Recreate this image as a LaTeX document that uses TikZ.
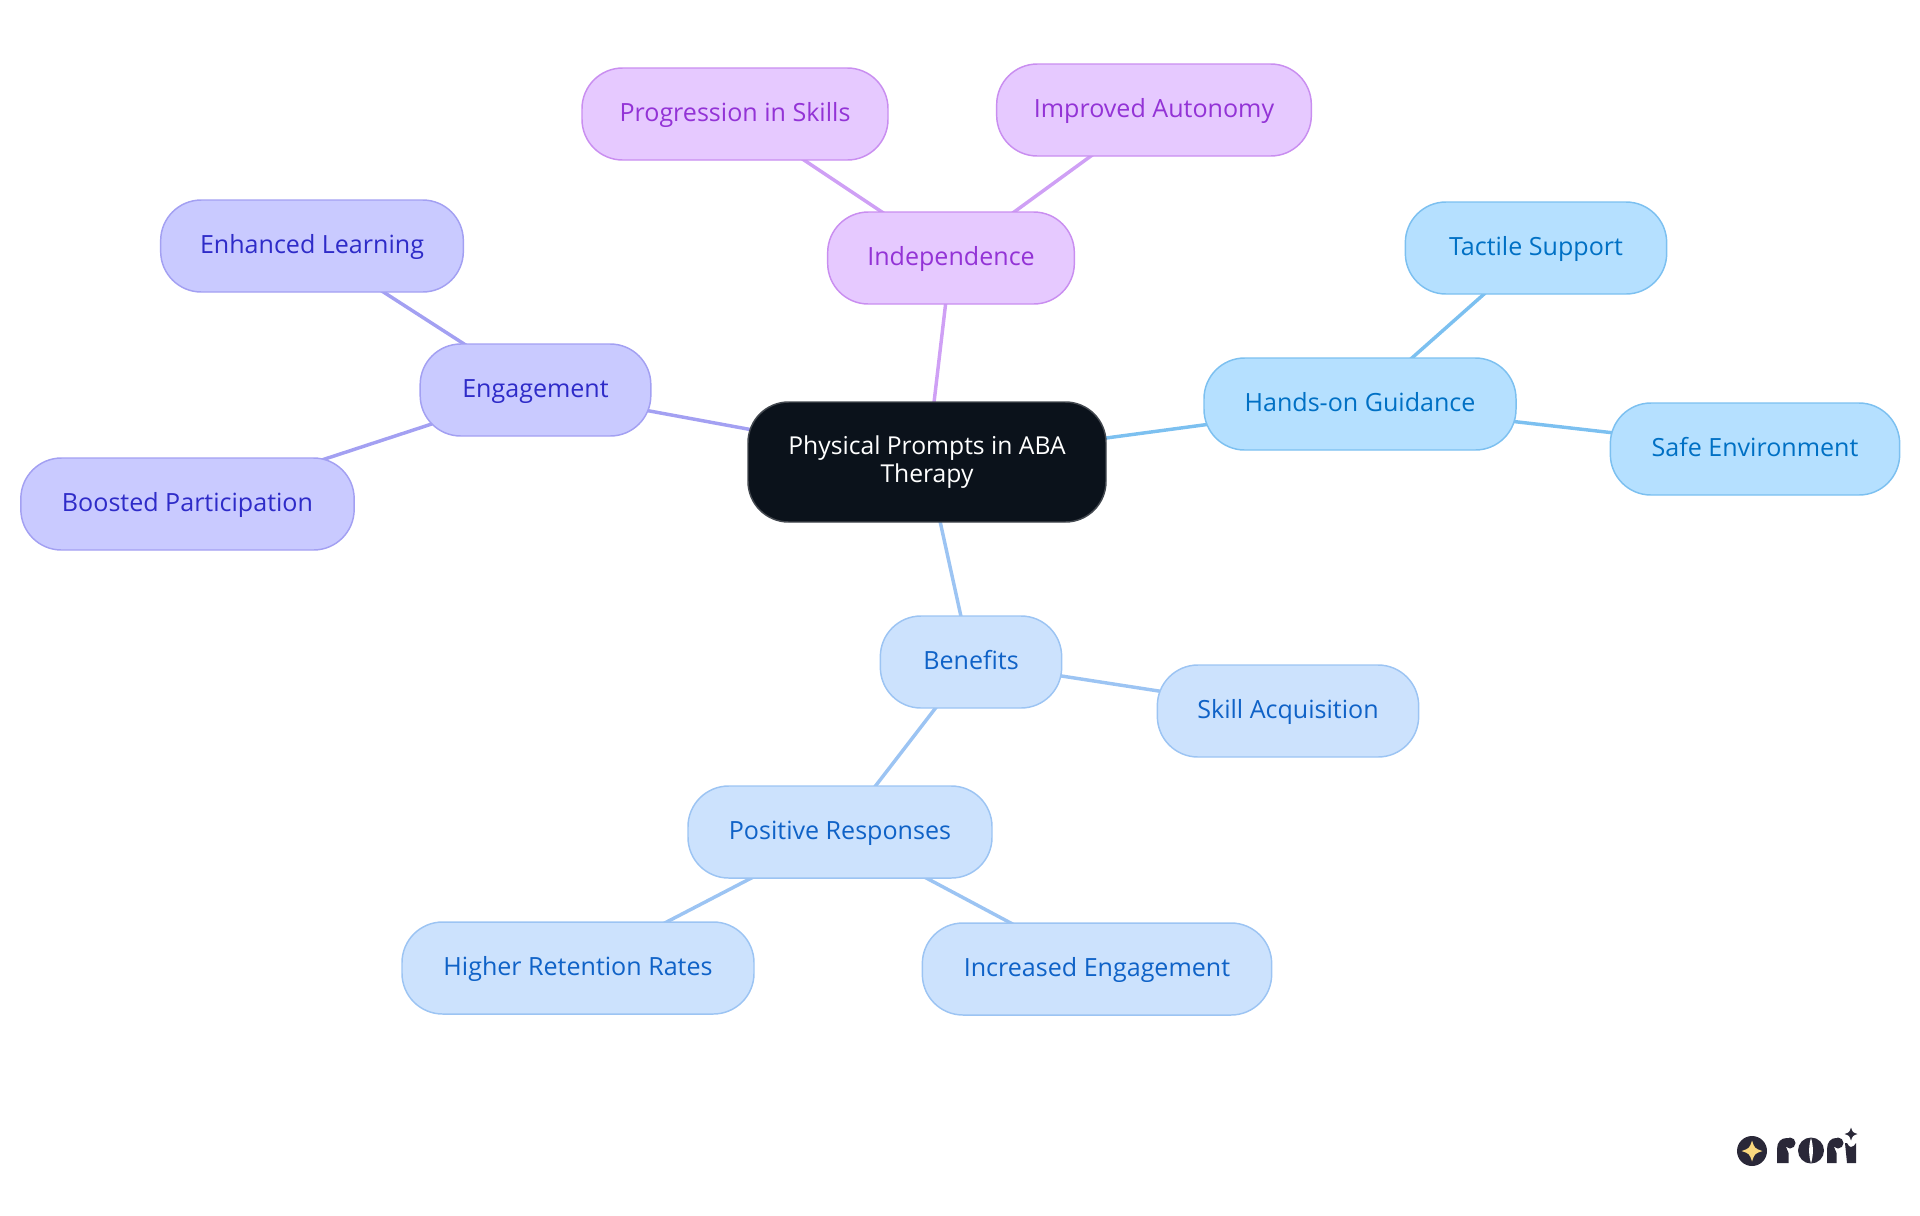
\documentclass[tikz,border=0pt]{standalone}
\usepackage{fontspec}
\setmainfont{Open Sans}
\usetikzlibrary{backgrounds}
\definecolor{rootfill}{HTML}{0B121B}
\definecolor{rootline}{HTML}{43484F}
\definecolor{purfill}{HTML}{E6C9FF}
\definecolor{purline}{HTML}{C98EF0}
\definecolor{purtext}{HTML}{9333D6}
\definecolor{puredge}{HTML}{CFA0F5}
\definecolor{indfill}{HTML}{C9CAFF}
\definecolor{indline}{HTML}{A3A0F2}
\definecolor{indtext}{HTML}{2E2BC8}
\definecolor{skyfill}{HTML}{B5E0FF}
\definecolor{skyline}{HTML}{7CC0F0}
\definecolor{skytext}{HTML}{0070C4}
\definecolor{blufill}{HTML}{CCE2FD}
\definecolor{bluline}{HTML}{9CC4F3}
\definecolor{blutext}{HTML}{0F62C7}
\definecolor{logodark}{HTML}{2A2838}
\definecolor{logostar}{HTML}{FBD97E}
\tikzset{
  mnode/.style={rectangle, rounded corners=30.5pt, line width=1.1pt, inner sep=0pt,
    minimum height=69pt, align=center},
  rootnode/.style={mnode, fill=rootfill, draw=rootline, text=white, minimum height=90pt, minimum width=268.5pt,
    font=\fontsize{18.5}{20.4}\selectfont},
  leafnode/.style={mnode, text height=15pt, text depth=4.5pt, font=\fontsize{18.8}{22}\selectfont},
  purnode/.style={leafnode, fill=purfill, draw=purline, text=purtext},
  indnode/.style={leafnode, fill=indfill, draw=indline, text=indtext},
  skynode/.style={leafnode, fill=skyfill, draw=skyline, text=skytext},
  blunode/.style={leafnode, fill=blufill, draw=bluline, text=blutext},
  puredgeline/.style={draw=puredge, line width=2.6pt},
  indedgeline/.style={draw=indline, line width=2.6pt},
  skyedgeline/.style={draw=skyline, line width=2.6pt},
  bluedgeline/.style={draw=bluline, line width=2.6pt},
}
\newcommand{\sparkle}[4]{\fill[#4] (#1-#3,#2) .. controls (#1-#3*0.25,#2-#3*0.25) .. (#1,#2-#3) .. controls (#1+#3*0.25,#2-#3*0.25) .. (#1+#3,#2) .. controls (#1+#3*0.25,#2+#3*0.25) .. (#1,#2+#3) .. controls (#1-#3*0.25,#2+#3*0.25) .. cycle;}
\begin{document}
\begin{tikzpicture}[x=0.75pt,y=-0.75pt]
\useasboundingbox (0,0) rectangle (1920,1215);
\node[rootnode] (root) at (927,462) {Physical Prompts in ABA\\Therapy};
\node[purnode, minimum width=185pt] (ind) at (951,258) {Independence};
\node[purnode, minimum width=229.5pt] (prog) at (735,114) {Progression in Skills};
\node[purnode, minimum width=236pt] (auto) at (1154,110) {Improved Autonomy};
\node[indnode, minimum width=227pt] (learn) at (312,246) {Enhanced Learning};
\node[indnode, minimum width=173pt] (eng) at (535.5,390) {Engagement};
\node[indnode, minimum width=250pt] (boost) at (187.5,504) {Boosted Participation};
\node[skynode, minimum width=234pt] (hands) at (1360,404) {Hands-on Guidance};
\node[skynode, minimum width=196pt] (tact) at (1536,248) {Tactile Support};
\node[skynode, minimum width=217pt] (safe) at (1755,449) {Safe Environment};
\node[blunode, minimum width=136pt] (ben) at (971,662) {Benefits};
\node[blunode, minimum width=196pt] (skill) at (1288,711) {Skill Acquisition};
\node[blunode, minimum width=228pt] (pos) at (840,832) {Positive Responses};
\node[blunode, minimum width=264pt] (high) at (578,968) {Higher Retention Rates};
\node[blunode, minimum width=262pt] (incr) at (1097,969) {Increased Engagement};
\begin{scope}[on background layer]
  \draw[puredgeline] (root.center) -- (ind.center);
  \draw[puredgeline] (ind.center) -- (prog.center);
  \draw[puredgeline] (ind.center) -- (auto.center);
  \draw[indedgeline] (root.center) -- (eng.center);
  \draw[indedgeline] (eng.center) -- (learn.center);
  \draw[indedgeline] (eng.center) -- (boost.center);
  \draw[skyedgeline] (root.center) -- (hands.center);
  \draw[skyedgeline] (hands.center) -- (tact.center);
  \draw[skyedgeline] (hands.center) -- (safe.center);
  \draw[bluedgeline] (root.center) -- (ben.center);
  \draw[bluedgeline] (ben.center) -- (skill.center);
  \draw[bluedgeline] (ben.center) -- (pos.center);
  \draw[bluedgeline] (pos.center) -- (high.center);
  \draw[bluedgeline] (pos.center) -- (incr.center);
\end{scope}
% logo
\fill[logodark] (1752,1151) circle (15);
\sparkle{1752}{1151}{10.5}{logostar}
% first r
\fill[logodark] (1777,1163) -- (1777,1149) .. controls (1777,1142) and (1781,1138) .. (1787,1138) -- (1790,1138) -- (1786,1147) .. controls (1787,1150) and (1788,1151) .. (1788.5,1153) -- (1788.5,1163) -- cycle;
\fill[logodark] (1790,1143) circle (5.5);
% o
\fill[logodark] (1811,1150.5) circle (13);
\fill[white] (1811,1138) .. controls (1808.5,1146) and (1808.5,1155) .. (1811,1163.5) .. controls (1813.5,1155) and (1813.5,1146) .. (1811,1138) -- cycle;
% second r
\fill[logodark] (1827,1163) -- (1827,1149) .. controls (1827,1142) and (1831,1138) .. (1836,1138) -- (1838,1138) -- (1834,1147) .. controls (1835,1150) and (1836,1151) .. (1836.5,1153) -- (1836.5,1163) -- cycle;
\fill[logodark] (1838,1143) circle (5.5);
% i
\fill[logodark] (1845,1143) -- (1847,1143) .. controls (1848,1146) and (1850,1147) .. (1851,1147) .. controls (1853,1147) and (1855,1145) .. (1856,1143) -- (1856,1163) -- (1847,1163) -- cycle;
\sparkle{1851}{1134}{6.5}{logodark}
\end{tikzpicture}
\end{document}
